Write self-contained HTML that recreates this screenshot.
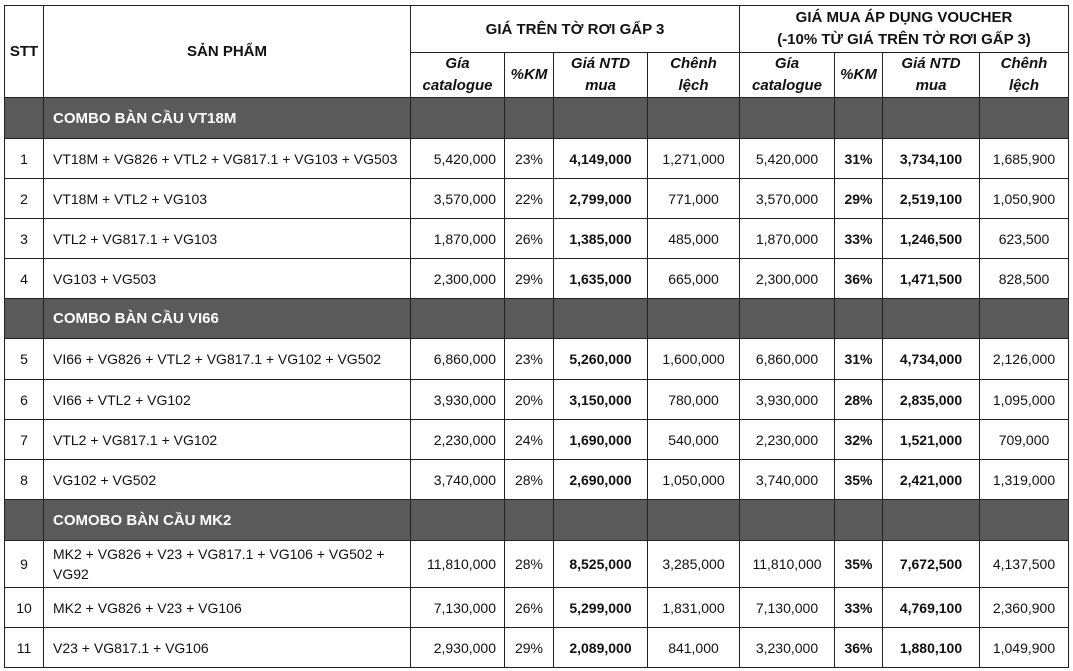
<!DOCTYPE html>
<html><head><meta charset="utf-8"><style>
body{margin:0;background:#fff;width:1073px;height:671px;overflow:hidden}
table{position:absolute;left:4px;top:5px;border-collapse:collapse;table-layout:fixed;font-family:"Liberation Sans",sans-serif;font-size:14px;color:#111}
td,th{border:1px solid #222;padding:0 4px;text-align:center;vertical-align:middle;overflow:hidden;white-space:nowrap}
th{font-weight:bold;font-size:15px}
.sub th{font-style:italic;line-height:22px}
td.l{text-align:left;padding-left:9px}
td.n{text-align:right;padding-right:8px}
.g td{background:#5a5a5a;color:#fff;font-weight:bold;font-size:15px;border-color:#222}
b{font-weight:bold}
.w{white-space:normal;line-height:20px}
</style></head><body>
<table>
<colgroup><col style="width:39px"><col style="width:367px"><col style="width:94px"><col style="width:49px"><col style="width:94px"><col style="width:92px"><col style="width:95px"><col style="width:48px"><col style="width:97px"><col style="width:89px"></colgroup>
<tr style="height:47px"><th rowspan="2">STT</th><th rowspan="2">SẢN PHẨM</th><th colspan="4">GIÁ TRÊN TỜ RƠI GẤP 3</th><th colspan="4" style="line-height:22px">GIÁ MUA ÁP DỤNG VOUCHER<br>(-10% TỪ GIÁ TRÊN TỜ RƠI GẤP 3)</th></tr>
<tr class="sub" style="height:45px"><th>Gía<br>catalogue</th><th>%KM</th><th>Giá NTD<br>mua</th><th>Chênh<br>lệch</th><th>Gía<br>catalogue</th><th>%KM</th><th>Giá NTD<br>mua</th><th>Chênh<br>lệch</th></tr>
<tr class="g" style="height:41px"><td></td><td class="l">COMBO BÀN CẦU VT18M</td><td></td><td></td><td></td><td></td><td></td><td></td><td></td><td></td></tr>
<tr style="height:40px"><td>1</td><td class="l">VT18M + VG826 + VTL2 + VG817.1 + VG103 + VG503</td><td class="n">5,420,000</td><td>23%</td><td><b>4,149,000</b></td><td>1,271,000</td><td>5,420,000</td><td><b>31%</b></td><td><b>3,734,100</b></td><td>1,685,900</td></tr>
<tr style="height:40px"><td>2</td><td class="l">VT18M + VTL2 + VG103</td><td class="n">3,570,000</td><td>22%</td><td><b>2,799,000</b></td><td>771,000</td><td>3,570,000</td><td><b>29%</b></td><td><b>2,519,100</b></td><td>1,050,900</td></tr>
<tr style="height:40px"><td>3</td><td class="l">VTL2 + VG817.1 + VG103</td><td class="n">1,870,000</td><td>26%</td><td><b>1,385,000</b></td><td>485,000</td><td>1,870,000</td><td><b>33%</b></td><td><b>1,246,500</b></td><td>623,500</td></tr>
<tr style="height:40px"><td>4</td><td class="l">VG103 + VG503</td><td class="n">2,300,000</td><td>29%</td><td><b>1,635,000</b></td><td>665,000</td><td>2,300,000</td><td><b>36%</b></td><td><b>1,471,500</b></td><td>828,500</td></tr>
<tr class="g" style="height:40px"><td></td><td class="l">COMBO BÀN CẦU VI66</td><td></td><td></td><td></td><td></td><td></td><td></td><td></td><td></td></tr>
<tr style="height:41px"><td>5</td><td class="l">VI66 + VG826 + VTL2 + VG817.1 + VG102 + VG502</td><td class="n">6,860,000</td><td>23%</td><td><b>5,260,000</b></td><td>1,600,000</td><td>6,860,000</td><td><b>31%</b></td><td><b>4,734,000</b></td><td>2,126,000</td></tr>
<tr style="height:40px"><td>6</td><td class="l">VI66 + VTL2 + VG102</td><td class="n">3,930,000</td><td>20%</td><td><b>3,150,000</b></td><td>780,000</td><td>3,930,000</td><td><b>28%</b></td><td><b>2,835,000</b></td><td>1,095,000</td></tr>
<tr style="height:40px"><td>7</td><td class="l">VTL2 + VG817.1 + VG102</td><td class="n">2,230,000</td><td>24%</td><td><b>1,690,000</b></td><td>540,000</td><td>2,230,000</td><td><b>32%</b></td><td><b>1,521,000</b></td><td>709,000</td></tr>
<tr style="height:40px"><td>8</td><td class="l">VG102 + VG502</td><td class="n">3,740,000</td><td>28%</td><td><b>2,690,000</b></td><td>1,050,000</td><td>3,740,000</td><td><b>35%</b></td><td><b>2,421,000</b></td><td>1,319,000</td></tr>
<tr class="g" style="height:41px"><td></td><td class="l">COMOBO BÀN CẦU MK2</td><td></td><td></td><td></td><td></td><td></td><td></td><td></td><td></td></tr>
<tr style="height:47px"><td>9</td><td class="l w">MK2 + VG826 + V23 + VG817.1 + VG106 + VG502 +<br>VG92</td><td class="n">11,810,000</td><td>28%</td><td><b>8,525,000</b></td><td>3,285,000</td><td>11,810,000</td><td><b>35%</b></td><td><b>7,672,500</b></td><td>4,137,500</td></tr>
<tr style="height:40px"><td>10</td><td class="l">MK2 + VG826 + V23 + VG106</td><td class="n">7,130,000</td><td>26%</td><td><b>5,299,000</b></td><td>1,831,000</td><td>7,130,000</td><td><b>33%</b></td><td><b>4,769,100</b></td><td>2,360,900</td></tr>
<tr style="height:40px"><td>11</td><td class="l">V23 + VG817.1 + VG106</td><td class="n">2,930,000</td><td>29%</td><td><b>2,089,000</b></td><td>841,000</td><td>3,230,000</td><td><b>36%</b></td><td><b>1,880,100</b></td><td>1,049,900</td></tr>
</table>
</body></html>
